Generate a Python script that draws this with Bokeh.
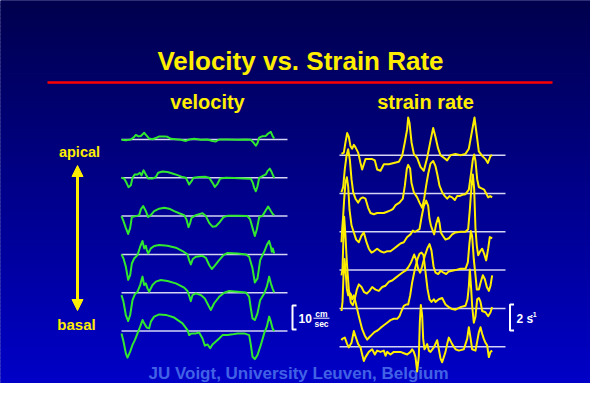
import numpy as np
from bokeh.plotting import figure
from bokeh.models import Range1d, Arrow, NormalHead
from bokeh.core.properties import value
from bokeh.embed import file_html
from bokeh.resources import INLINE

# ---------------- texts ----------------
title_text = "Velocity vs. Strain Rate"
panel_titles = ["velocity", "strain rate"]
apical_label = "apical"
basal_label = "basal"
credit_text = "JU Voigt, University Leuven, Belgium"
vel_scale_value = "10"
vel_scale_num = "cm"
vel_scale_den = "sec"
sr_scale_value = "2 s"
sr_scale_exp = "-1"

# ---------------- data: (time ms, velocity cm/s), apical -> basal ----------------
vel1 = [(0,-0.1),(26,-0.3),(56,0),(72,0.8),(86,1.9),(102,1.3),(116,1.5),(136,2.8),(152,1.5),(166,0.4),
        (186,0.1),(206,0.6),(226,1.3),(256,1.3),(276,1.1),(296,0.3),(326,0.1),(356,-0.1),(386,-0.6),(406,0),
        (436,0.3),(476,-0.1),(516,0),(546,-0.6),(566,-0.8),(586,0),(636,0),(696,-0.1),(746,0),(776,-0.1),
        (792,-1.3),(806,-2.6),(816,-1.5),(826,0.8),(846,1.4),(866,1.5),(880,2.5),(896,3.2),(906,1.5),(916,0.4)]
vel2 = [(0,0),(16,-0.3),(30,-2.1),(42,-3.9),(56,-3.1),(66,0),(80,1.4),(96,1.4),(110,2.1),(120,1.0),
        (132,3.1),(146,1.4),(160,-0.3),(186,-0.3),(206,0.3),(220,2.1),(246,2.6),(276,2.4),(306,1.8),(336,1.1),
        (366,0.3),(386,0),(396,-1.4),(406,-2.8),(420,-1.4),(432,0),(466,0.3),(506,0.4),(526,0),(546,-2.1),
        (560,-3.8),(576,-2.5),(592,-0.3),(626,0),(676,-0.1),(736,-0.3),(776,-0.4),(788,-2.1),(796,-4.2),(806,-5.6),
        (816,-3.5),(826,0),(846,0.7),(866,1.4),(876,2.8),(890,3.8),(900,2.5),(916,0)]
vel3 = [(0,0),(12,-2.1),(26,-4.9),(40,-7.4),(52,-4.9),(62,-0.4),(86,0),(106,0.4),(116,2.8),(130,4.2),
        (146,2.1),(160,-0.4),(176,0.4),(196,2.1),(226,3.1),(256,3.5),(286,3.1),(316,2.1),(346,1.2),(376,0.4),
        (390,-1.4),(402,-4.6),(412,-2.8),(420,-0.7),(446,0.4),(486,1.2),(506,0),(526,-2.8),(546,-4.4),(566,-4.2),
        (586,-2.8),(612,-0.4),(636,0.1),(696,0.1),(756,0),(772,-1.4),(786,-4.9),(800,-8.3),(812,-5.6),(826,-0.4),
        (846,0.1),(866,2.4),(880,4.0),(896,2.1),(906,1.0),(916,0.4)]
vel4 = [(0,0),(12,-1.7),(26,-5.1),(40,-10.6),(52,-8.6),(62,-3.8),(76,-1.7),(96,-0.3),(112,3.2),(126,5.6),
        (136,2.5),(146,3.6),(152,1.8),(160,0.4),(176,2.5),(196,3.5),(226,3.9),(276,3.6),(326,2.8),(366,1.4),
        (396,0),(406,-2.4),(416,-4.2),(428,-1.9),(446,-1.0),(486,-0.6),(506,-1.4),(526,-4.4),(542,-6.1),(560,-4.7),
        (586,-2.4),(612,-0.3),(636,0.6),(696,0.4),(746,0),(766,-1.0),(786,-5.8),(800,-11.7),(816,-10.0),(832,-2.4),
        (856,1.1),(872,3.9),(886,5.6),(896,3.2),(902,1.1),(908,2.5),(916,0.4)]
vel5 = [(0,-1.0),(12,-3.8),(26,-9.3),(40,-11.8),(52,-9.3),(66,-3.1),(80,-0.7),(96,0.4),(112,3.2),(126,6.7),
        (136,3.2),(146,3.9),(156,1.8),(166,0.4),(186,3.2),(206,4.6),(236,5.3),(276,4.9),(326,3.9),(376,2.1),
        (396,0.7),(406,-1.3),(416,-3.5),(426,-1.0),(446,-0.3),(476,-1.0),(500,-2.4),(520,-5.1),(536,-7.2),(556,-4.4),
        (586,-1.7),(616,0),(646,0.7),(696,0.4),(746,0.1),(766,-1.7),(776,-6.5),(786,-10.7),(800,-11.4),(816,-8.6),
        (832,-3.1),(856,-0.3),(872,2.5),(886,6.7),(896,3.9),(906,1.8),(916,0.1)]
vel6 = [(0,-1.0),(12,-4.4),(26,-9.3),(36,-11.1),(52,-8.6),(66,-5.8),(80,-3.8),(96,-1.0),(112,1.8),(126,4.6),
        (136,3.2),(152,1.4),(166,1.1),(176,3.9),(196,6.0),(226,6.9),(266,6.7),(316,5.6),(366,3.2),(396,0.4),
        (406,-1.7),(420,-1.0),(446,-1.0),(466,-0.6),(486,-3.1),(500,-6.1),(516,-5.6),(532,-7.2),(546,-5.6),(566,-4.4),
        (586,-3.1),(606,-1.7),(636,-1.7),(666,-1.4),(696,-1.0),(736,-1.0),(766,-1.7),(776,-5.8),(786,-10.7),(800,-11.7),
        (816,-10.0),(836,-5.8),(856,-1.0),(872,1.8),(886,6.0),(896,3.9),(906,1.1),(916,0)]

# ---------------- data: (time ms, strain rate 1/s), apical -> basal ----------------
sr1 = [(0,0.1),(14,0.2),(24,1.0),(34,1.7),(44,1.4),(54,0.7),(64,0.5),(74,0.8),(84,0.6),(100,0.2),
       (114,-0.6),(124,-1.1),(134,-0.7),(144,-0.3),(164,-0.3),(184,-0.3),(200,-0.4),(214,-1.1),(234,-1.2),(254,-0.7),
       (284,-0.7),(314,-0.6),(344,-0.5),(364,-0.05),(380,1.0),(394,2.0),(400,2.9),(408,2.5),(420,1.0),(434,0.1),
       (454,-0.2),(474,-0.9),(494,-1.2),(514,-0.2),(534,1.1),(550,2.1),(564,1.4),(580,0.5),(594,0),(614,-0.2),
       (634,-0.4),(654,0),(684,0.1),(714,0),(744,0.1),(764,0.5),(778,1.5),(798,2.9),(808,1.9),(824,0.3),
       (844,-0.05),(864,-0.3),(878,-0.6),(894,-0.05),(904,0)]
sr2 = [(0,0.1),(10,0.5),(20,1.9),(30,2.9),(40,3.4),(50,2.6),(60,1.1),(70,0.1),(84,-0.4),(100,-0.7),
       (114,-0.4),(128,-0.3),(144,-0.4),(160,-1.1),(174,-1.5),(194,-1.6),(214,-1.5),(234,-1.5),(254,-1.5),(274,-1.4),
       (294,-1.3),(308,-1.2),(324,-0.9),(348,-0.7),(368,-0.4),(380,0.6),(392,1.9),(400,2.2),(412,1.9),(420,0.8),
       (434,0.1),(454,-0.3),(468,-0.7),(484,-1.1),(496,-0.4),(508,0.6),(520,1.5),(534,2.3),(550,2.5),(564,2.1),
       (576,1.4),(588,0.6),(604,0.1),(620,-0.2),(634,-0.4),(648,-0.2),(664,-0.3),(680,-0.5),(694,-0.2),(708,-0.2),
       (724,-0.1),(744,-0.05),(764,0.3),(778,1.6),(788,2.6),(796,3.0),(804,2.5),(814,1.1),(824,0.5),(840,0.4),
       (856,0.3),(868,0),(880,-0.3),(892,-0.2),(904,-0.3)]
sr3 = [(0,-0.8),(4,0.2),(10,1.2),(16,2.5),(24,3.8),(32,4.2),(40,3.5),(48,1.7),(60,0.5),(74,-0.05),
       (88,-0.6),(104,-0.8),(120,-0.3),(134,-0.05),(150,-0.8),(164,-1.3),(180,-1.6),(194,-1.5),(214,-1.3),(234,-1.5),
       (254,-1.6),(274,-1.5),(294,-1.5),(314,-1.3),(334,-1.1),(354,-0.9),(374,-0.8),(394,-0.4),(414,-0.2),(428,0.1),
       (440,0),(454,0.1),(468,0.2),(480,1.1),(494,2.0),(508,2.4),(520,2.0),(528,1.0),(536,0.5),(544,0.2),
       (556,-0.2),(568,0.6),(580,1.1),(588,0.7),(596,-0.05),(608,-0.3),(624,-0.6),(644,-0.5),(664,-0.2),(684,-0.05),
       (714,0),(744,0),(760,0.2),(770,1.7),(780,3.5),(788,4.4),(796,3.3),(804,0.2),(812,-1.1),(820,-1.8),
       (832,-1.5),(844,-1.3),(856,-1.7),(868,-2.2),(880,-1.3),(890,-0.4),(904,-0.5)]
sr4 = [(0,-0.4),(6,0.1),(12,2.6),(16,4.1),(24,2.6),(32,0.6),(44,-1.5),(56,-2.5),(68,-2.7),(80,-2.2),
       (92,-1.5),(104,-1.1),(120,-1.3),(136,-1.7),(152,-1.8),(168,-1.6),(184,-1.3),(204,-1.5),(224,-1.6),(244,-1.3),
       (264,-1.2),(284,-0.9),(304,-0.8),(324,-0.6),(344,-0.4),(364,-0.2),(384,-0.05),(400,0.2),(414,0.5),(424,0.8),
       (436,1.2),(448,0.8),(460,0.1),(472,-0.2),(484,0.3),(500,1.1),(516,1.7),(528,2.0),(540,1.5),(552,0.3),
       (564,-0.2),(580,-0.3),(596,-0.05),(612,-0.2),(628,-0.3),(644,-0.1),(664,-0.05),(684,0),(714,0.1),(744,0.1),
       (758,0.6),(768,2.1),(776,3.0),(784,2.6),(794,0.8),(804,-0.4),(812,-1.5),(824,-1.5),(836,-0.9),(848,-0.4),
       (860,-0.7),(872,-1.3),(884,-1.6),(894,-1.2),(904,-0.4)]
sr5 = [(0,-0.2),(6,0.5),(12,2.5),(18,3.8),(24,3.0),(32,1.5),(40,1.0),(48,1.2),(56,1.1),(64,0.7),
       (74,1.0),(84,0.5),(94,-0.05),(104,-0.6),(114,-1.1),(124,-1.6),(140,-2.1),(154,-2.4),(168,-2.2),(184,-2.0),
       (200,-1.8),(216,-1.7),(234,-1.5),(254,-1.3),(274,-1.1),(294,-0.9),(314,-0.8),(334,-0.8),(348,-0.6),(360,-0.2),
       (374,0.2),(388,0.3),(400,0.3),(412,1.0),(424,2.0),(440,3.0),(456,3.8),(468,4.2),(480,4.3),(492,4.1),
       (504,2.8),(516,1.5),(528,0.7),(540,0.5),(554,0.7),(564,0.5),(584,0.7),(604,0.8),(624,0.3),(644,0.1),
       (664,-0.05),(684,-0.1),(714,0.1),(744,0.2),(756,0.7),(764,1.7),(770,3.0),(778,1.5),(784,0.2),(794,-1.1),
       (804,-0.6),(814,0.7),(824,0.8),(834,0.5),(844,-0.2),(864,-0.3),(880,-0.6),(894,-0.3),(904,0.1)]
sr6 = [(0,0.5),(4,0.6),(20,0.7),(34,0.2),(44,-0.05),(60,0.3),(74,1.2),(84,0.8),(100,0.2),(114,-0.05),
       (124,-0.6),(134,-1.1),(144,-0.8),(164,-0.4),(184,-0.2),(200,-0.6),(214,-0.3),(234,-0.4),(254,-0.3),(264,-0.7),
       (274,-0.4),(294,-0.6),(314,-0.4),(334,-0.4),(354,-0.4),(374,-0.5),(394,-0.6),(414,-0.4),(424,-0.2),(434,-0.4),
       (444,-0.8),(454,-1.9),(464,-0.7),(470,1.9),(476,3.2),(484,2.4),(490,0.6),(498,-0.2),(514,0.2),(524,-0.3),
       (534,-0.4),(554,-0.05),(574,0.5),(584,-0.2),(594,-0.9),(604,-1.2),(624,-0.4),(634,0.2),(644,0.7),(664,0.2),
       (684,-0.2),(704,-0.3),(734,-0.2),(754,0.6),(764,1.5),(774,0.7),(784,-0.2),(804,-0.3),(824,1.1),(834,1.5),
       (844,1.0),(854,0.6),(864,0.3),(874,0.1),(884,-0.8),(894,-0.4),(904,-0.3)]

vel_traces = [vel1, vel2, vel3, vel4, vel5, vel6]
sr_traces = [sr1, sr2, sr3, sr4, sr5, sr6]

# ---------------- layout (page pixel frame) ----------------
W, H = 590, 383
X0, Y0 = 8, 8
VEL_X0, SR_X0 = 129, 349
PX_PER_MS = 1 / 6.0
VEL_PX_PER_UNIT = 2.4     # 10 cm/s bracket = 24 px
SR_PX_PER_UNIT = 13.0     # 2 1/s bracket = 26 px
VEL_BASE = [147.0 + 38.3 * i for i in range(6)]
SR_BASE = [162.7 + 38.3 * i for i in range(6)]

YELLOW = "#ffee00"
GREEN = "#30e830"
BASE_COL = "#d4d4f4"
FONT = value("Liberation Sans")

p = figure(width=W, height=H, x_range=Range1d(X0, X0 + W), y_range=Range1d(Y0 + H, Y0),
           output_backend="svg", toolbar_location=None, min_border=0,
           x_axis_location=None, y_axis_location=None)
p.grid.visible = False
p.outline_line_color = None
p.background_fill_color = "#000070"
p.border_fill_color = "#000070"

# background gradient
edges = np.linspace(Y0, Y0 + H, 97)
mids = (edges[:-1] + edges[1:]) / 2
cols = ["#%02x%02x%02x" % (0, 0, int(78 + (m - Y0) / H * 122)) for m in mids]
p.quad(left=X0, right=X0 + W, top=edges[:-1], bottom=edges[1:], fill_color=cols, line_color=cols, line_width=1)

# red rule
p.segment(x0=[55], x1=[560], y0=[90], y1=[90], line_color="#ff0000", line_width=2.6)

def txt(x, y, s, size, color=YELLOW, align="center"):
    p.text(x=[x], y=[y], text=[s], text_font=FONT, text_font_style="bold",
           text_font_size=size, text_color=color, text_align=align, text_baseline="middle")

txt(308, 68, title_text, "26px")
txt(215, 109, panel_titles[0], "20px")
txt(433, 109, panel_titles[1], "20px")
txt(87, 159, apical_label, "14.5px")
txt(84, 332, basal_label, "15px")
txt(306, 381, credit_text, "17px", color="#4262e6")

# apical-basal arrow
p.add_layout(Arrow(start=NormalHead(size=11, fill_color=YELLOW, line_color=YELLOW),
                   end=NormalHead(size=11, fill_color=YELLOW, line_color=YELLOW),
                   x_start=85, y_start=318, x_end=85, y_end=173,
                   line_color=YELLOW, line_width=3))

# baselines
p.segment(x0=[129] * 6, x1=[295] * 6, y0=VEL_BASE, y1=VEL_BASE, line_color=BASE_COL, line_width=1.5)
p.segment(x0=[347] * 6, x1=[513] * 6, y0=SR_BASE, y1=SR_BASE, line_color=BASE_COL, line_width=1.5)

# traces
for base, tr in zip(VEL_BASE, vel_traces):
    t, v = zip(*tr)
    p.line(VEL_X0 + np.array(t) * PX_PER_MS, base - np.array(v) * VEL_PX_PER_UNIT,
           line_color=GREEN, line_width=2, line_join="round")
for base, tr in zip(SR_BASE, sr_traces):
    t, s = zip(*tr)
    p.line(SR_X0 + np.array(t) * PX_PER_MS, base - np.array(s) * SR_PX_PER_UNIT,
           line_color=YELLOW, line_width=2, line_join="round")

# scale brackets
def bracket(x, ytop, ybot):
    p.line([x + 4, x, x, x + 4], [ytop, ytop, ybot, ybot], line_color="white", line_width=2)

bracket(300, 313, 337)
txt(306, 326, vel_scale_value, "12px", color="white", align="left")
txt(329, 321, vel_scale_num, "8.5px", color="white")
p.segment(x0=[321], x1=[337], y0=[325.7], y1=[325.7], line_color="white", line_width=1)
txt(329, 331.5, vel_scale_den, "8.5px", color="white")

bracket(517.5, 312, 338)
txt(524, 326, sr_scale_value, "12px", color="white", align="left")
txt(538, 321.5, sr_scale_exp, "7px", color="white", align="left")

open("out.html", "w").write(file_html(p, INLINE))
